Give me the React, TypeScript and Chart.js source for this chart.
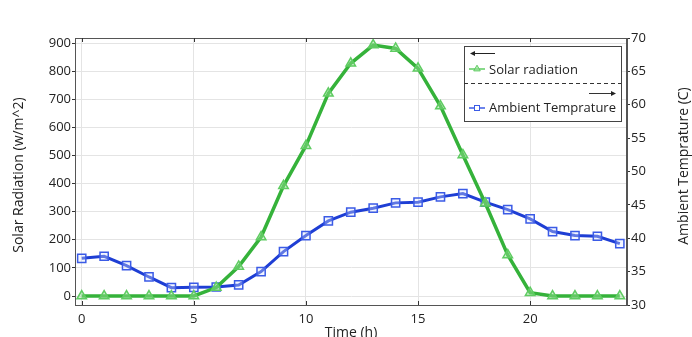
import React, { useEffect, useRef } from "react";
import { Chart, registerables } from "chart.js";

Chart.register(...registerables);

// Hourly measurements over one day
const hours = [0, 1, 2, 3, 4, 5, 6, 7, 8, 9, 10, 11, 12, 13, 14, 15, 16, 17, 18, 19, 20, 21, 22, 23, 24];
const solarRadiation = [0, 0, 0, 0, 0, 0, 30, 105, 210, 392, 535, 721, 828, 893, 881, 810, 676, 502, 330, 146, 12, 0, 0, 0, 0];
const ambientTemperature = [37.0, 37.3, 35.9, 34.2, 32.6, 32.65, 32.7, 33.0, 35.0, 38.0, 40.4, 42.6, 43.9, 44.5, 45.3, 45.4, 46.2, 46.7, 45.4, 44.3, 42.9, 41.0, 40.4, 40.3, 39.2];

// Axis tick values
const hourTicks = [0, 5, 10, 15, 20];
const radiationTicks = [0, 100, 200, 300, 400, 500, 600, 700, 800, 900];
const temperatureTicks = [30, 35, 40, 45, 50, 55, 60, 65, 70];

const seriesNames = ["Solar radiation", "Ambient Temprature"];
const axisTitles = { x: "Time (h)", left: "Solar Radiation (w/m^2)", right: "Ambient Temprature (C)" };

const FONT = "'Open Sans', 'DejaVu Sans', sans-serif";
const GREEN = "#35b23a";
const GREEN_MARK = "#5fcc62";
const BLUE = "#1e3ed4";
const BLUE_MARK = "#3b5be6";
const FRAME = "#555555";
const GRID = "#e4e4e4";

const W = 692;
const H = 337;

function drawTriangle(ctx: CanvasRenderingContext2D, x: number, y: number, r: number) {
  ctx.beginPath();
  ctx.moveTo(x, y - r);
  ctx.lineTo(x + r * 0.866, y + r * 0.5);
  ctx.lineTo(x - r * 0.866, y + r * 0.5);
  ctx.closePath();
}

function drawArrow(ctx: CanvasRenderingContext2D, x0: number, x1: number, y: number, headAtEnd: boolean) {
  ctx.beginPath();
  ctx.moveTo(x0, y);
  ctx.lineTo(x1, y);
  ctx.stroke();
  const hx = headAtEnd ? x1 : x0;
  const dir = headAtEnd ? 1 : -1;
  ctx.beginPath();
  ctx.moveTo(hx + dir * 1, y);
  ctx.lineTo(hx - dir * 4, y - 2.5);
  ctx.lineTo(hx - dir * 4, y + 2.5);
  ctx.closePath();
  ctx.fill();
}

const framePlugin = {
  id: "frameAndLegend",
  afterDraw(chart: any) {
    const ctx: CanvasRenderingContext2D = chart.ctx;
    const { left, right, top, bottom } = chart.chartArea;
    const xScale = chart.scales.x;
    ctx.save();

    // plot frame
    ctx.strokeStyle = FRAME;
    ctx.lineWidth = 1;
    ctx.strokeRect(left + 0.5, top + 0.5, right - left - 1, bottom - top);

    // inward ticks on bottom and top edges
    ctx.strokeStyle = "#333";
    hourTicks.forEach((v) => {
      const px = Math.round(xScale.getPixelForValue(v)) + 0.5;
      ctx.beginPath();
      ctx.moveTo(px, bottom);
      ctx.lineTo(px, bottom - 4);
      ctx.moveTo(px, top);
      ctx.lineTo(px, top + 4);
      ctx.stroke();
    });

    // axis titles
    ctx.fillStyle = "#222";
    ctx.font = `14px ${FONT}`;
    ctx.textAlign = "center";
    ctx.textBaseline = "alphabetic";
    ctx.fillText(axisTitles.x, (left + right) / 2, H);

    ctx.textBaseline = "middle";
    ctx.save();
    ctx.translate(19, 175);
    ctx.rotate(-Math.PI / 2);
    ctx.fillText(axisTitles.left, 0, 0);
    ctx.restore();

    ctx.save();
    ctx.translate(684, 166);
    ctx.rotate(-Math.PI / 2);
    ctx.fillText(axisTitles.right, 0, 0);
    ctx.restore();

    // legend box
    const bx = right - 163;
    const by = top + 8;
    const bw = 157;
    const bh = 75;
    ctx.fillStyle = "#ffffff";
    ctx.fillRect(bx, by, bw, bh);
    ctx.strokeStyle = "#444";
    ctx.lineWidth = 1;
    ctx.strokeRect(bx + 0.5, by + 0.5, bw, bh);

    ctx.fillStyle = "#222";
    ctx.strokeStyle = "#222";
    drawArrow(ctx, bx + 7, bx + 31, by + 7.5, false);

    // solar radiation entry
    ctx.strokeStyle = GREEN_MARK;
    ctx.lineWidth = 1.5;
    ctx.beginPath();
    ctx.moveTo(bx + 5, by + 23);
    ctx.lineTo(bx + 21, by + 23);
    ctx.stroke();
    drawTriangle(ctx, bx + 13, by + 23, 3.8);
    ctx.fillStyle = "rgba(150,225,150,0.6)";
    ctx.fill();
    ctx.lineWidth = 1;
    ctx.stroke();

    ctx.fillStyle = "#222";
    ctx.font = `13px ${FONT}`;
    ctx.textAlign = "left";
    ctx.textBaseline = "middle";
    ctx.fillText(seriesNames[0], bx + 25, by + 24);

    // separator
    ctx.strokeStyle = "#333";
    ctx.lineWidth = 1;
    ctx.setLineDash([4, 3]);
    ctx.beginPath();
    ctx.moveTo(bx, by + 37.5);
    ctx.lineTo(bx + bw, by + 37.5);
    ctx.stroke();
    ctx.setLineDash([]);

    ctx.fillStyle = "#222";
    drawArrow(ctx, bx + 125, bx + 151, by + 47.5, true);

    // ambient temperature entry
    ctx.strokeStyle = BLUE_MARK;
    ctx.lineWidth = 1.5;
    ctx.beginPath();
    ctx.moveTo(bx + 5, by + 62);
    ctx.lineTo(bx + 21, by + 62);
    ctx.stroke();
    ctx.fillStyle = "#ffffff";
    ctx.fillRect(bx + 10, by + 59, 6, 6);
    ctx.lineWidth = 1;
    ctx.strokeRect(bx + 10.5, by + 59.5, 5, 5);

    ctx.fillStyle = "#222";
    ctx.fillText(seriesNames[1], bx + 25, by + 62);

    ctx.restore();
  },
};

export default function App() {
  const canvasRef = useRef<HTMLCanvasElement | null>(null);

  useEffect(() => {
    if (!canvasRef.current) return;
    Chart.defaults.font.family = FONT;
    Chart.defaults.color = "#222";

    const chart = new Chart(canvasRef.current, {
      type: "line",
      data: {
        datasets: [
          {
            label: seriesNames[0],
            data: hours.map((h, i) => ({ x: h, y: solarRadiation[i] })),
            yAxisID: "y",
            borderColor: GREEN,
            borderWidth: 3.5,
            pointStyle: "triangle",
            pointRadius: 5.5,
            pointBorderColor: GREEN_MARK,
            pointBackgroundColor: "rgba(150,225,150,0.45)",
            pointBorderWidth: 1.5,
            tension: 0,
          },
          {
            label: seriesNames[1],
            data: hours.map((h, i) => ({ x: h, y: ambientTemperature[i] })),
            yAxisID: "y1",
            borderColor: BLUE,
            borderWidth: 3,
            pointStyle: "rect",
            pointRadius: 5.8,
            pointBorderColor: BLUE_MARK,
            pointBackgroundColor: "rgba(220,228,255,0.35)",
            pointBorderWidth: 1.5,
            tension: 0,
          },
        ],
      },
      options: {
        responsive: false,
        animation: false,
        devicePixelRatio: 1,
        layout: { padding: { top: 38, left: 0, right: 0, bottom: 0 } },
        plugins: {
          legend: { display: false },
          tooltip: { enabled: false },
          title: { display: false },
        },
        scales: {
          x: {
            type: "linear",
            min: -0.3,
            max: 24.32,
            afterBuildTicks: (scale: any) => {
              scale.ticks = hourTicks.map((v) => ({ value: v }));
            },
            afterFit: (scale: any) => {
              scale.height = H - 305;
            },
            grid: { color: GRID, drawTicks: false },
            border: { display: false },
            ticks: { font: { size: 13 }, padding: 6, maxRotation: 0 },
          },
          y: {
            type: "linear",
            position: "left",
            min: -32,
            max: 918,
            afterBuildTicks: (scale: any) => {
              scale.ticks = radiationTicks.map((v) => ({ value: v }));
            },
            afterFit: (scale: any) => {
              scale.width = 75;
            },
            grid: { color: GRID, tickColor: "#333", tickLength: 3 },
            border: { display: true, color: FRAME },
            ticks: { font: { size: 13 }, padding: 1 },
          },
          y1: {
            type: "linear",
            position: "right",
            min: 30,
            max: 70,
            afterBuildTicks: (scale: any) => {
              scale.ticks = temperatureTicks.map((v) => ({ value: v }));
            },
            afterFit: (scale: any) => {
              scale.width = W - 627;
            },
            grid: { drawOnChartArea: false, tickColor: "#333", tickLength: 3 },
            border: { display: true, color: FRAME },
            ticks: { font: { size: 13 }, padding: 1 },
          },
        },
      },
      plugins: [framePlugin],
    } as any);

    return () => chart.destroy();
  }, []);

  return (
    <div style={{ position: "absolute", left: 0, top: 0, width: W, height: H, background: "#fff" }}>
      <canvas ref={canvasRef} width={W} height={H} style={{ display: "block" }} />
    </div>
  );
}
